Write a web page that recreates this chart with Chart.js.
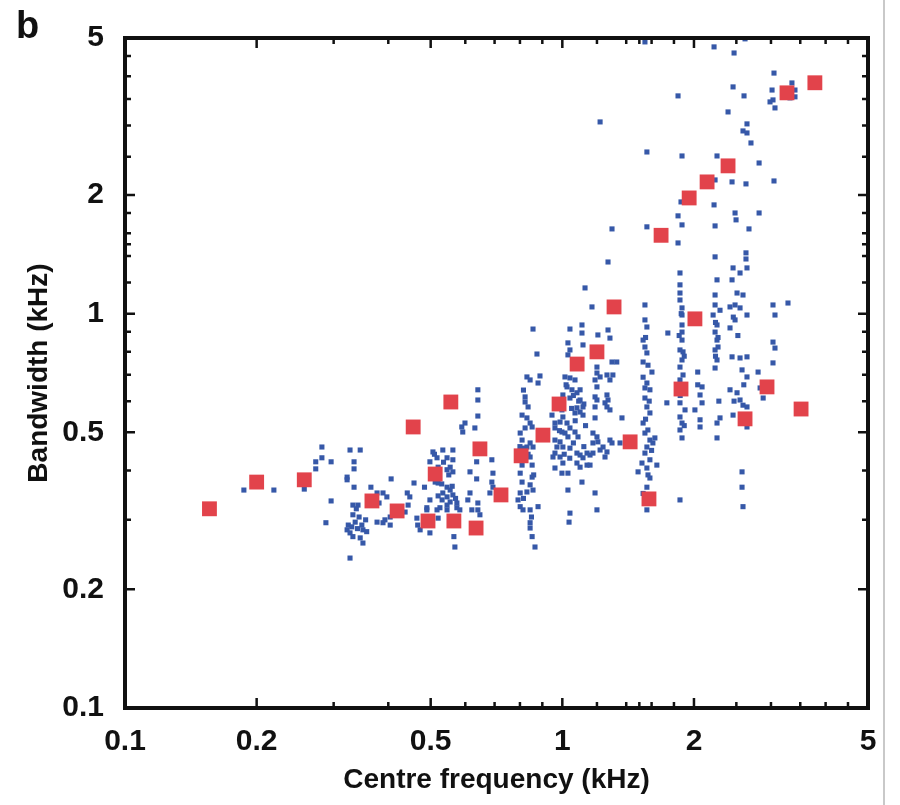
<!DOCTYPE html>
<html>
<head>
<meta charset="utf-8">
<script src="https://cdn.jsdelivr.net/npm/chart.js@4.4.1/dist/chart.umd.min.js"></script>
<style>
  body { margin: 0; background: #fff; }
  #wrap { position: relative; width: 900px; height: 805px; }
  #panel { position: absolute; left: 16px; top: 4px; font: bold 38px 'Liberation Sans', Arial, sans-serif; color: #111; }
  #edge { position: absolute; left: 883px; top: 0; width: 2px; height: 805px; background: #c9c9c9; }
</style>
</head>
<body>
<div id="wrap">
  <canvas id="bwChart" width="900" height="805"></canvas>
  <div id="panel">b</div>
  <div id="edge"></div>
</div>
<script>
// axis ticks (kHz)
const xTickValues = [0.1, 0.2, 0.5, 1, 2, 5];
const yTickValues = [0.1, 0.2, 0.5, 1, 2, 5];
const minorTickValues = [0.3, 0.4, 0.6, 0.7, 0.8, 0.9, 1.2, 1.4, 1.5, 1.6, 1.8, 2.5, 3, 3.5, 4, 4.5];

// red squares: [centre frequency, bandwidth] in kHz
const modelPoints = [
  [0.156, 0.32], [0.2, 0.374], [0.257, 0.379], [0.367, 0.335], [0.419, 0.316],
  [0.456, 0.516], [0.493, 0.298], [0.512, 0.392], [0.556, 0.597], [0.648, 0.454],
  [0.565, 0.298], [0.635, 0.286], [0.724, 0.347], [0.805, 0.436], [0.903, 0.492],
  [0.983, 0.59], [1.081, 0.745], [1.2, 0.8], [1.313, 1.04], [1.429, 0.473],
  [1.578, 0.339], [1.682, 1.58], [1.868, 0.644], [1.95, 1.965], [2.01, 0.97],
  [2.143, 2.158], [2.393, 2.37], [2.617, 0.541], [2.938, 0.652], [3.264, 3.63],
  [3.515, 0.573], [3.78, 3.85]
];

// blue dots: [centre frequency, bandwidth] in kHz
const unitPoints = [
  [0.187, 0.357], [0.219, 0.357], [0.257, 0.359],
  [0.282, 0.459], [0.282, 0.431], [0.273, 0.421], [0.273, 0.404], [0.296, 0.421],
  [0.327, 0.451], [0.345, 0.451], [0.334, 0.421], [0.334, 0.404], [0.322, 0.385], [0.322, 0.379],
  [0.334, 0.363], [0.365, 0.363], [0.406, 0.381], [0.296, 0.335], [0.288, 0.295],
  [0.332, 0.327], [0.341, 0.327], [0.332, 0.309], [0.336, 0.296], [0.324, 0.291], [0.322, 0.283],
  [0.327, 0.278], [0.332, 0.272], [0.348, 0.291], [0.35, 0.283], [0.357, 0.28], [0.345, 0.27],
  [0.35, 0.262], [0.327, 0.24],
  [0.338, 0.32], [0.343, 0.305], [0.33, 0.288], [0.355, 0.3], [0.34, 0.285],
  [0.377, 0.351], [0.389, 0.351], [0.397, 0.343], [0.381, 0.331],
  [0.377, 0.296], [0.389, 0.295], [0.404, 0.291], [0.404, 0.305], [0.414, 0.312], [0.393, 0.3],
  [0.442, 0.351], [0.448, 0.343], [0.444, 0.327], [0.437, 0.314],
  [0.458, 0.372], [0.484, 0.363],
  [0.465, 0.303], [0.467, 0.291], [0.49, 0.318], [0.498, 0.278], [0.473, 0.283],
  [0.506, 0.446], [0.533, 0.451], [0.562, 0.451], [0.498, 0.421], [0.517, 0.431], [0.545, 0.431],
  [0.562, 0.426], [0.554, 0.408], [0.562, 0.397], [0.545, 0.402], [0.52, 0.408],
  [0.512, 0.374], [0.52, 0.372],
  [0.51, 0.44], [0.535, 0.42], [0.55, 0.39], [0.53, 0.37], [0.56, 0.365], [0.52, 0.345], [0.57, 0.34],
  [0.545, 0.363], [0.554, 0.357], [0.533, 0.351], [0.545, 0.343], [0.562, 0.347], [0.531, 0.337],
  [0.554, 0.333], [0.574, 0.331], [0.545, 0.327], [0.525, 0.322], [0.545, 0.318], [0.574, 0.322],
  [0.583, 0.318],
  [0.498, 0.337], [0.49, 0.322], [0.517, 0.318], [0.52, 0.303], [0.498, 0.296],
  [0.565, 0.272], [0.568, 0.256],
  [0.589, 0.516], [0.592, 0.501], [0.599, 0.528], [0.631, 0.513],
  [0.641, 0.641], [0.641, 0.604], [0.641, 0.55],
  [0.637, 0.421], [0.637, 0.381], [0.615, 0.397],
  [0.615, 0.351], [0.608, 0.337], [0.621, 0.318], [0.641, 0.331], [0.641, 0.318], [0.648, 0.309],
  [0.69, 0.426], [0.694, 0.394], [0.69, 0.374], [0.694, 0.363], [0.683, 0.351],
  [0.857, 0.914], [0.875, 0.79], [0.83, 0.691], [0.844, 0.679], [0.889, 0.695], [0.88, 0.667],
  [0.822, 0.615], [0.822, 0.597], [0.809, 0.553], [0.83, 0.544], [0.844, 0.528], [0.853, 0.516],
  [0.822, 0.513], [0.801, 0.498], [0.809, 0.478], [0.83, 0.459], [0.813, 0.456], [0.844, 0.47],
  [0.857, 0.459], [0.844, 0.433], [0.853, 0.413], [0.809, 0.413], [0.801, 0.394], [0.809, 0.374],
  [0.853, 0.385], [0.844, 0.368], [0.801, 0.351], [0.83, 0.353], [0.857, 0.357], [0.792, 0.337],
  [0.801, 0.324], [0.813, 0.318], [0.844, 0.318], [0.88, 0.324], [0.844, 0.295], [0.844, 0.286],
  [0.853, 0.272], [0.866, 0.256],
  [0.815, 0.64], [0.835, 0.58], [0.8, 0.46], [0.835, 0.44], [0.82, 0.425], [0.86, 0.39],
  [0.815, 0.34], [0.85, 0.305],
  [1.041, 0.914], [1.109, 0.936], [1.109, 0.893], [1.03, 0.843], [1.041, 0.809], [1.03, 0.786],
  [1.206, 0.883], [1.272, 0.909], [1.285, 0.867], [1.115, 0.833],
  [1.014, 0.691], [1.041, 0.687], [1.069, 0.679], [1.025, 0.652], [1.052, 0.641], [1.003, 0.622],
  [1.041, 0.611], [1.08, 0.63], [1.098, 0.641], [1.098, 0.604], [1.115, 0.58], [1.08, 0.577],
  [1.098, 0.563], [1.115, 0.553], [1.069, 0.56], [0.998, 0.57], [1.003, 0.547], [0.988, 0.531],
  [1.025, 0.528], [1.041, 0.513], [0.998, 0.501], [0.947, 0.553], [0.962, 0.528], [0.962, 0.513],
  [1.014, 0.498], [1.03, 0.487], [1.069, 0.501], [1.086, 0.487], [0.962, 0.478], [0.988, 0.473],
  [0.972, 0.459], [1.003, 0.459], [1.041, 0.456], [0.962, 0.443], [0.988, 0.433], [0.952, 0.433],
  [1.003, 0.418], [0.962, 0.406], [0.998, 0.394], [1.03, 0.394], [1.08, 0.443], [1.098, 0.438],
  [1.139, 0.443], [1.115, 0.431], [1.157, 0.438], [1.175, 0.443], [1.08, 0.418], [1.098, 0.408],
  [1.139, 0.413], [1.109, 0.374], [1.03, 0.357], [1.041, 0.312], [1.036, 0.296],
  [1.02, 0.66], [1.06, 0.62], [1.09, 0.6], [1.12, 0.59], [1.05, 0.575], [1.13, 0.52],
  [1.01, 0.44], [1.06, 0.47], [1.12, 0.46], [1.04, 0.43], [0.985, 0.505], [1.07, 0.535],
  [1.2, 0.732], [1.2, 0.707], [1.188, 0.679], [1.22, 0.691], [1.2, 0.652], [1.265, 0.699],
  [1.285, 0.679], [1.305, 0.699], [1.299, 0.754], [1.332, 0.754], [1.188, 0.615], [1.2, 0.604],
  [1.188, 0.58], [1.265, 0.622], [1.272, 0.604], [1.265, 0.58], [1.285, 0.57], [1.252, 0.594],
  [1.188, 0.544], [1.175, 0.498], [1.2, 0.487], [1.206, 0.473], [1.175, 0.47], [1.239, 0.459],
  [1.285, 0.478], [1.299, 0.47], [1.22, 0.451], [1.265, 0.446], [1.252, 0.433], [1.157, 0.413],
  [1.369, 0.544], [1.355, 0.47], [1.188, 0.351], [1.2, 0.318],
  [1.127, 1.162], [1.169, 1.04],
  [1.545, 1.052], [1.545, 0.964], [1.561, 0.925], [1.53, 0.857], [1.545, 0.823], [1.561, 0.795],
  [1.53, 0.754], [1.603, 0.711], [1.561, 0.667], [1.545, 0.648], [1.586, 0.641], [1.545, 0.611],
  [1.561, 0.58], [1.586, 0.56], [1.53, 0.528], [1.569, 0.507], [1.545, 0.498], [1.586, 0.478],
  [1.561, 0.459], [1.611, 0.47], [1.545, 0.443], [1.586, 0.426], [1.521, 0.418], [1.561, 0.406],
  [1.49, 0.397], [1.645, 0.413], [1.586, 0.383], [1.561, 0.363], [1.561, 0.318], [1.628, 0.484],
  [1.55, 0.87], [1.57, 0.74], [1.53, 0.69], [1.58, 0.6], [1.55, 0.54], [1.6, 0.45],
  [1.57, 0.39], [1.53, 0.35],
  [1.858, 1.268], [1.858, 1.183], [1.858, 1.128], [1.858, 1.083], [1.878, 1.034], [1.878, 0.992],
  [1.878, 0.936], [1.878, 0.898], [1.878, 0.857], [1.858, 0.809], [1.888, 0.8], [1.878, 0.763],
  [1.858, 0.732], [1.888, 0.699], [1.858, 0.679], [1.839, 0.633], [1.858, 0.594], [1.908, 0.57],
  [1.858, 0.547], [1.878, 0.528], [1.858, 0.507], [1.878, 0.484], [1.858, 0.337],
  [1.87, 1.0], [1.85, 0.88], [1.9, 0.78], [1.86, 0.62], [1.9, 0.52],
  [1.743, 0.893], [1.734, 0.594],
  [2.04, 0.711], [2.04, 0.66], [2.087, 0.652], [2.065, 0.622], [2.087, 0.594], [2.01, 0.57],
  [2.065, 0.538], [2.065, 0.516],
  [2.258, 1.218], [2.235, 1.115], [2.235, 1.052], [2.294, 1.02], [2.212, 0.992], [2.258, 0.936],
  [2.235, 0.898], [2.258, 0.857], [2.27, 0.823], [2.235, 0.809], [2.258, 0.763], [2.235, 0.728],
  [2.294, 0.544], [2.258, 0.528], [2.258, 0.484],
  [2.24, 0.95], [2.27, 0.87], [2.24, 0.78], [2.28, 0.6],
  [2.457, 1.306], [2.549, 1.268], [2.644, 1.306], [2.444, 1.218], [2.509, 1.128], [2.589, 1.115],
  [2.483, 1.052], [2.549, 1.034], [2.644, 0.992], [2.418, 1.04], [2.483, 0.964], [2.418, 0.92],
  [2.549, 0.772], [2.644, 0.777], [2.576, 0.72], [2.644, 0.691], [2.418, 0.641], [2.509, 0.63],
  [2.549, 0.604], [2.589, 0.586], [2.644, 0.58], [2.457, 0.553], [2.644, 0.516], [2.576, 0.397],
  [2.576, 0.363], [2.589, 0.324], [2.444, 0.777],
  [2.46, 0.98], [2.52, 0.88], [2.6, 0.66], [2.47, 0.6],
  [2.803, 0.711], [2.833, 0.648], [2.879, 0.611],
  [3.032, 1.052], [3.064, 0.992], [3.032, 0.847], [3.064, 0.818], [3.032, 0.75], [3.281, 1.064],
  [1.545, 4.887], [2.223, 4.747], [2.47, 4.581], [2.617, 4.975],
  [3.048, 4.074], [2.457, 3.758], [2.603, 3.566], [1.839, 3.566],
  [3.017, 3.69], [3.35, 3.846], [3.404, 3.69], [3.032, 3.483], [2.985, 3.443], [3.064, 3.324],
  [3.316, 3.525], [3.404, 3.546],
  [2.393, 3.247], [1.22, 3.063], [2.644, 3.028], [2.589, 2.906], [2.644, 2.872], [2.7, 2.709],
  [1.561, 2.57], [1.878, 2.511], [2.258, 2.511], [2.818, 2.41], [2.235, 2.183], [2.444, 2.158],
  [2.63, 2.133], [3.048, 2.17], [1.868, 1.92], [2.223, 1.887], [1.839, 1.77], [2.483, 1.8],
  [2.818, 1.8], [2.496, 1.729], [1.299, 1.64], [1.561, 1.66], [1.878, 1.679], [2.235, 1.669],
  [2.672, 1.64], [1.839, 1.511], [2.235, 1.393], [2.63, 1.426], [2.63, 1.376], [1.272, 1.352]
];

const fontFamily = "'Liberation Sans', Arial, Helvetica, sans-serif";

// closed frame with inward ticks on all four sides
const frameTicks = {
  id: 'frameTicks',
  afterDatasetsDraw(chart) {
    const { ctx, chartArea: a, scales } = chart;
    ctx.save();
    ctx.strokeStyle = '#111';
    ctx.lineWidth = 2.5;
    ctx.beginPath();
    const drawX = (v, len) => {
      const px = scales.x.getPixelForValue(v);
      ctx.moveTo(px, a.bottom); ctx.lineTo(px, a.bottom - len);
      ctx.moveTo(px, a.top); ctx.lineTo(px, a.top + len);
    };
    const drawY = (v, len) => {
      const py = scales.y.getPixelForValue(v);
      ctx.moveTo(a.left, py); ctx.lineTo(a.left + len, py);
      ctx.moveTo(a.right, py); ctx.lineTo(a.right - len, py);
    };
    xTickValues.slice(1, -1).forEach((v) => drawX(v, 10));
    yTickValues.slice(1, -1).forEach((v) => drawY(v, 10));
    minorTickValues.forEach((v) => { drawX(v, 6); drawY(v, 6); });
    ctx.stroke();
    ctx.lineWidth = 4;
    ctx.strokeRect(a.left, a.top, a.right - a.left, a.bottom - a.top);
    ctx.restore();
  },
};

const toXY = (pts) => pts.map((p) => ({ x: p[0], y: p[1] }));

new Chart(document.getElementById('bwChart'), {
  type: 'scatter',
  data: {
    datasets: [
      {
        label: 'Model',
        data: toXY(modelPoints),
        pointStyle: 'rect',
        pointRadius: 10.5,
        backgroundColor: '#e2434b',
        borderWidth: 0,
        order: 1,
      },
      {
        label: 'Units',
        data: toXY(unitPoints),
        pointStyle: 'rect',
        pointRadius: 3.6,
        backgroundColor: '#3658a8',
        borderWidth: 0,
        order: 2,
      },
    ],
  },
  options: {
    responsive: false,
    animation: false,
    events: [],
    layout: { padding: { top: 38, right: 32, left: 0, bottom: 0 } },
    plugins: { legend: { display: false }, tooltip: { enabled: false } },
    scales: {
      x: {
        type: 'logarithmic',
        min: 0.1,
        max: 5,
        grid: { display: false },
        border: { display: false },
        afterBuildTicks: (scale) => { scale.ticks = xTickValues.map((v) => ({ value: v })); },
        afterFit: (scale) => { scale.height = 97; },
        ticks: {
          autoSkip: false,
          maxRotation: 0,
          padding: 8,
          color: '#111',
          font: { family: fontFamily, size: 30, weight: 'bold' },
          callback: (v) => String(v),
        },
        title: {
          display: true,
          text: 'Centre frequency (kHz)',
          color: '#111',
          font: { family: fontFamily, size: 28, weight: 'bold' },
          padding: { top: 0, bottom: 8 },
        },
      },
      y: {
        type: 'logarithmic',
        min: 0.1,
        max: 5,
        grid: { display: false },
        border: { display: false },
        afterBuildTicks: (scale) => { scale.ticks = yTickValues.map((v) => ({ value: v })); },
        afterFit: (scale) => { scale.width = 125; },
        ticks: {
          autoSkip: false,
          padding: 13,
          color: '#111',
          font: { family: fontFamily, size: 30, weight: 'bold' },
          callback: (v) => String(v),
        },
        title: {
          display: true,
          text: 'Bandwidth (kHz)',
          color: '#111',
          font: { family: fontFamily, size: 28, weight: 'bold' },
          padding: { top: 22, bottom: 0 },
        },
      },
    },
  },
  plugins: [frameTicks],
});
</script>
</body>
</html>
